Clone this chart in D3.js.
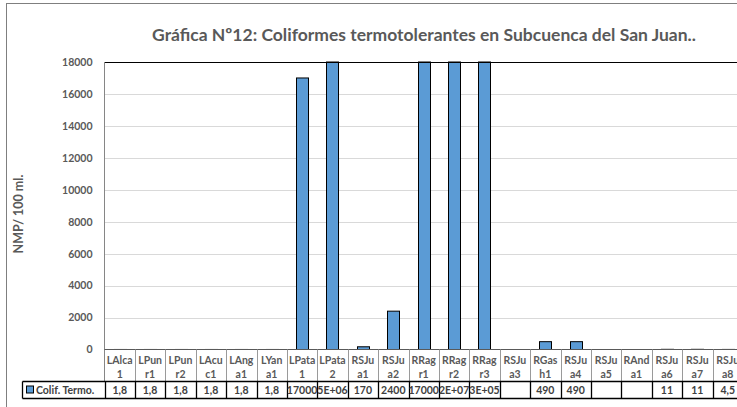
<!DOCTYPE html>
<html>
<head>
<meta charset="utf-8">
<script src="https://cdn.jsdelivr.net/npm/d3@7"></script>
<style>
  body { margin: 0; background: #fff; }
  svg text { font-family: Lato, "Open Sans", sans-serif; font-weight: bold; }
</style>
</head>
<body>
<svg id="chart" width="737" height="407"></svg>
<script>
// categories split in the two lines the data table shows
var catTop = ["LAlca","LPun","LPun","LAcu","LAng","LYan","LPata","LPata","RSJu","RSJu","RRag","RRag","RRag","RSJu","RGas","RSJu","RSJu","RAnd","RSJu","RSJu","RSJu"];
var catBottom = ["1","r1","r2","c1","a1","a1","1","2","a1","a2","r1","r2","r3","a3","h1","a4","a5","a1","a6","a7","a8"];
// Colif. Termo. (NMP/100 ml)
var values = [1.8,1.8,1.8,1.8,1.8,1.8,17000,5000000,170,2400,170000,20000000,300000,null,490,490,null,null,11,11,4.5];
// text as it is printed in the data table
var cellText = ["1,8","1,8","1,8","1,8","1,8","1,8","17000","5E+06","170","2400","17000","2E+07","3E+05","","490","490","","","11","11","4,5"];
var yTicks = [0,2000,4000,6000,8000,10000,12000,14000,16000,18000];

var svg = d3.select("#chart");

var plotLeft = 104.5, plotTop = 62, plotBottom = 349.5;
var colW = 30.4;
var plotRight = plotLeft + colW * catTop.length;
var row1 = 349.5, row2 = 381.5, row3 = 398.5;

var x = d3.scaleBand()
  .domain(d3.range(catTop.length))
  .range([plotLeft, plotRight])
  .paddingInner(0)
  .paddingOuter(0);

var y = d3.scaleLinear()
  .domain([0, 18000])
  .range([plotBottom, plotTop]);

// chart outline
svg.append("rect")
  .attr("x", 6.5).attr("y", 3.5)
  .attr("width", 740).attr("height", 410)
  .attr("fill", "none")
  .attr("stroke", "#7f7f7f");

// title
svg.append("text")
  .attr("x", 424).attr("y", 41)
  .attr("text-anchor", "middle")
  .attr("fill", "#595959")
  .style("font-size", "17.5px")
  .text("Gráfica Nº12: Coliformes termotolerantes en Subcuenca del San Juan..");

// gridlines
svg.append("g")
  .selectAll("line")
  .data(yTicks.filter(function(d){ return d > 0 && d < 18000; }))
  .enter().append("line")
  .attr("x1", plotLeft).attr("x2", 737)
  .attr("y1", function(d){ return Math.round(y(d)) + 0.5; })
  .attr("y2", function(d){ return Math.round(y(d)) + 0.5; })
  .attr("stroke", "#d9d9d9");

// y axis labels
var yAxis = d3.axisLeft(y).tickValues(yTicks).tickFormat(d3.format("d")).tickSize(0).tickPadding(12);
var gy = svg.append("g")
  .attr("transform", "translate(" + plotLeft + ",0)")
  .call(yAxis);
gy.select(".domain").remove();
gy.selectAll("text")
  .attr("fill", "#595959")
  .style("font-size", "10.5px")
  .style("font-family", "Lato, sans-serif")
  .style("font-weight", "bold");

// y axis title
svg.append("text")
  .attr("transform", "translate(23,214) rotate(-90)")
  .attr("text-anchor", "middle")
  .attr("fill", "#595959")
  .style("font-size", "12.5px")
  .text("NMP/ 100 ml.");

// bars
svg.append("g")
  .selectAll("rect")
  .data(values.map(function(v, i){ return {v: v, i: i}; }).filter(function(d){ return d.v != null; }))
  .enter().append("rect")
  .attr("x", function(d){ return Math.round(x(d.i) + x.bandwidth() / 2 - 6) + 0.5; })
  .attr("width", 12)
  .attr("y", function(d){ return y(Math.min(d.v, 18000)); })
  .attr("height", function(d){ return plotBottom - y(Math.min(d.v, 18000)); })
  .attr("fill", "#5b9bd5")
  .attr("stroke", "#000")
  .attr("stroke-width", 1);

// plot frame: top line and left line
svg.append("line")
  .attr("x1", plotLeft).attr("x2", 737).attr("y1", plotTop + 0.5).attr("y2", plotTop + 0.5)
  .attr("stroke", "#000").attr("stroke-width", 1.2);
svg.append("line")
  .attr("x1", plotLeft).attr("x2", plotLeft).attr("y1", plotTop).attr("y2", row2)
  .attr("stroke", "#868686");
svg.append("line")
  .attr("x1", plotLeft).attr("x2", 737).attr("y1", row1).attr("y2", row1)
  .attr("stroke", "#595959");

// data table: category row
var table = svg.append("g");
table.selectAll("line.sep")
  .data(d3.range(1, catTop.length))
  .enter().append("line")
  .attr("class", "sep")
  .attr("x1", function(i){ return Math.round(x(i)) + 0.5; })
  .attr("x2", function(i){ return Math.round(x(i)) + 0.5; })
  .attr("y1", row1).attr("y2", row2)
  .attr("stroke", "#9a9a9a");

table.selectAll("text.c1")
  .data(catTop)
  .enter().append("text")
  .attr("class", "c1")
  .attr("x", function(d, i){ return x(i) + x.bandwidth() / 2; })
  .attr("y", row1 + 14)
  .attr("text-anchor", "middle")
  .attr("fill", "#595959")
  .style("font-size", "10.5px")
  .text(function(d){ return d; });

table.selectAll("text.c2")
  .data(catBottom)
  .enter().append("text")
  .attr("class", "c2")
  .attr("x", function(d, i){ return x(i) + x.bandwidth() / 2; })
  .attr("y", row1 + 28)
  .attr("text-anchor", "middle")
  .attr("fill", "#595959")
  .style("font-size", "10.5px")
  .text(function(d){ return d; });

// data table: values row
var legendLeft = 22.5;
table.append("line")
  .attr("x1", legendLeft).attr("x2", 737).attr("y1", row2).attr("y2", row2)
  .attr("stroke", "#000").attr("stroke-width", 1.3);
table.append("line")
  .attr("x1", legendLeft).attr("x2", 737).attr("y1", row3).attr("y2", row3)
  .attr("stroke", "#000").attr("stroke-width", 1.3);
table.selectAll("line.vsep")
  .data(d3.range(0, catTop.length))
  .enter().append("line")
  .attr("class", "vsep")
  .attr("x1", function(i){ return Math.round(x(i)) + 0.5; })
  .attr("x2", function(i){ return Math.round(x(i)) + 0.5; })
  .attr("y1", row2).attr("y2", row3)
  .attr("stroke", "#000").attr("stroke-width", 1.3);
table.append("line")
  .attr("x1", legendLeft).attr("x2", legendLeft).attr("y1", row2).attr("y2", row3)
  .attr("stroke", "#000").attr("stroke-width", 1.3);

table.selectAll("text.val")
  .data(cellText)
  .enter().append("text")
  .attr("class", "val")
  .attr("x", function(d, i){ return x(i) + x.bandwidth() / 2; })
  .attr("y", row2 + 12.5)
  .attr("text-anchor", "middle")
  .attr("fill", "#404040")
  .style("font-size", "10.5px")
  .text(function(d){ return d; });

// legend key
table.append("rect")
  .attr("x", 26.5).attr("y", row2 + 4.5)
  .attr("width", 7).attr("height", 7)
  .attr("fill", "#5b9bd5")
  .attr("stroke", "#000");
table.append("text")
  .attr("x", 36).attr("y", row2 + 12.5)
  .attr("fill", "#404040")
  .style("font-size", "10.5px")
  .text("Colif. Termo.");
</script>
</body>
</html>
